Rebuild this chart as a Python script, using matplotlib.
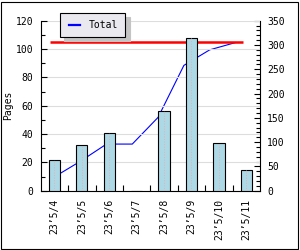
import matplotlib.pyplot as plt
from matplotlib.patches import Rectangle
from matplotlib.ticker import MultipleLocator
from matplotlib.legend_handler import HandlerLine2D

plt.rcParams["font.family"] = "DejaVu Sans Mono"

# data
days = ["23’5/4", "23’5/5", "23’5/6", "23’5/7", "23’5/8", "23’5/9", "23’5/10", "23’5/11"]
pages = [21.5, 32, 41, 0, 56, 108, 34, 14.5]          # left axis
total = [29, 61, 96, 96, 151, 258, 290, 305]          # right axis, running total
total_pages = 307                                     # red reference line

x = list(range(len(days)))

fig = plt.figure(figsize=(3, 2.5), dpi=100)
rect = [40.7 / 300, 59.3 / 250, 219.3 / 300, 170 / 250]

# line axes underneath (its own x scale, right y axis)
axl = fig.add_axes(rect)
axl.set_xlim(-0.55, 7.95)
axl.set_ylim(0, 350)
axl.plot(x, total, color="blue", lw=0.8, label="Total")
axl.hlines(total_pages, -0.2, 7.3, color="red", lw=1.8)
axl.set_xticks([])
axl.yaxis.tick_right()
axl.yaxis.set_major_locator(MultipleLocator(50))
axl.yaxis.set_minor_locator(MultipleLocator(10))
axl.tick_params(axis="y", which="major", direction="in", length=4, width=0.8, pad=5, labelsize=7)
axl.tick_params(axis="y", which="minor", direction="in", length=3, width=0.8)
for s in ["top", "left", "bottom"]:
    axl.spines[s].set_visible(False)
axl.spines["right"].set_linewidth(0.8)

# bar axes on top, transparent
ax = fig.add_axes(rect)
ax.patch.set_alpha(0)
ax.set_xlim(-0.5, 7.5)
ax.set_ylim(0, 120)
ax.bar(x, pages, width=0.41, color="lightblue", edgecolor="black", lw=0.8, zorder=3)
ax.vlines(x, 0, pages, color="#e6b0b4", lw=0.7, linestyles=":", zorder=4)
ax.yaxis.set_major_locator(MultipleLocator(20))
ax.yaxis.set_minor_locator(MultipleLocator(10))
ax.grid(axis="y", color="#dddddd", lw=0.8, zorder=0)
ax.set_axisbelow(True)
ax.tick_params(axis="y", which="major", direction="in", length=4, width=0.8, pad=5.5, labelsize=7)
ax.tick_params(axis="y", which="minor", direction="in", length=3, width=0.8)
ax.set_xticks(x)
ax.set_xticklabels(days, rotation=90, fontsize=7)
ax.set_xticks([i + 0.5 for i in x[:-1]], minor=True)
ax.tick_params(axis="x", which="major", length=0, pad=6)
ax.tick_params(axis="x", which="minor", direction="in", length=4, width=0.8)
for s in ["top", "right"]:
    ax.spines[s].set_visible(False)
ax.spines["left"].set_linewidth(0.8)
ax.spines["bottom"].set_linewidth(0.8)
ax.set_ylabel("Pages", fontsize=7)
ax.yaxis.set_label_coords(-0.125, 0.5)

leg = fig.legend(loc="upper left", bbox_to_anchor=(60 / 300, 1 - 13.3 / 250),
                 fontsize=7, frameon=True, fancybox=False, handlelength=1.35,
                 handletextpad=0.95, borderpad=0.7, borderaxespad=0,
                 handler_map={axl.lines[0]: HandlerLine2D(xpad=0.25)},
                 shadow={"color": "#c4c4c4", "alpha": 1, "ox": 3, "oy": -3})
leg.get_frame().set_facecolor("#ebe9f0")
leg.get_frame().set_edgecolor("black")
leg.get_frame().set_linewidth(0.8)
leg.get_frame().set_alpha(1)
for h in leg.legend_handles:
    h.set_linewidth(1.6)

fig.patches.append(Rectangle((1 / 300, 1.5 / 250), 297 / 300, 247 / 250, transform=fig.transFigure,
                             fill=False, edgecolor="black", lw=0.8))

fig.savefig("out.png", dpi=100)
